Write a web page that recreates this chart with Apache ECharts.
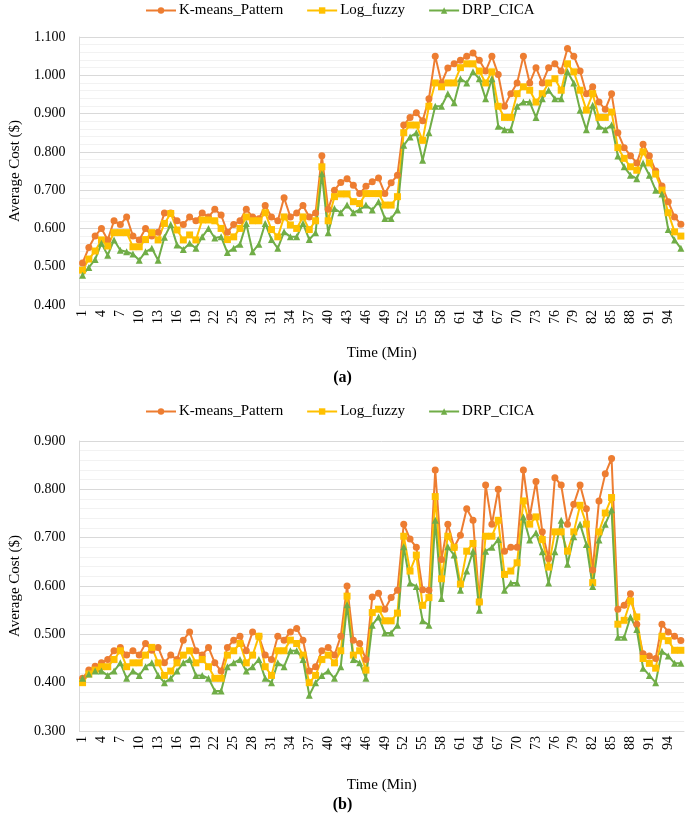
<!DOCTYPE html>
<html>
<head>
<meta charset="utf-8">
<script src="https://cdn.jsdelivr.net/npm/echarts@6/dist/echarts.min.js"></script>
<style>
html,body{margin:0;padding:0;background:#fff;}
#c{width:685px;height:814px;}
</style>
</head>
<body>
<div id="c"></div>
<script>
// ---- data ----
var categories = [];
for (var k = 1; k <= 96; k++) categories.push(String(k));

var seriesNames = ['K-means_Pattern', 'Log_fuzzy', 'DRP_CICA'];

var kmeansA = [0.51,0.55,0.58,0.60,0.57,0.62,0.61,0.63,0.58,0.57,
  0.60,0.58,0.59,0.64,0.64,0.62,0.61,0.63,0.62,0.64,
  0.63,0.65,0.635,0.59,0.61,0.62,0.65,0.63,0.625,0.66,
  0.63,0.62,0.68,0.63,0.64,0.66,0.63,0.64,0.79,0.65,
  0.70,0.72,0.73,0.713,0.691,0.71,0.722,0.732,0.691,0.719,
  0.739,0.87,0.89,0.902,0.881,0.939,1.05,0.98,1.019,1.03,
  1.039,1.05,1.058,1.039,1.011,1.05,1.002,0.919,0.952,0.98,
  1.05,0.98,1.02,0.98,1.02,1.03,1.011,1.07,1.05,1.011,
  0.952,0.97,0.93,0.911,0.952,0.85,0.811,0.79,0.771,0.82,
  0.79,0.75,0.711,0.67,0.63,0.611];

var logA = [0.491,0.52,0.541,0.57,0.554,0.589,0.589,0.589,0.552,0.552,
  0.571,0.589,0.57,0.613,0.639,0.596,0.57,0.583,0.57,0.622,
  0.622,0.62,0.60,0.571,0.578,0.60,0.63,0.62,0.62,0.641,
  0.597,0.578,0.63,0.609,0.60,0.63,0.597,0.62,0.761,0.62,
  0.683,0.69,0.69,0.67,0.665,0.691,0.691,0.691,0.661,0.661,
  0.683,0.85,0.87,0.87,0.83,0.919,0.98,0.97,0.98,0.98,
  1.02,1.03,1.03,1.011,0.98,1.009,0.919,0.89,0.89,0.952,
  0.97,0.961,0.93,0.952,0.98,0.991,0.961,1.03,1.009,0.961,
  0.909,0.952,0.89,0.89,0.904,0.811,0.783,0.761,0.752,0.80,
  0.771,0.742,0.70,0.641,0.591,0.58];

var drpA = [0.478,0.498,0.519,0.561,0.53,0.57,0.543,0.539,0.533,0.517,
  0.539,0.548,0.517,0.577,0.61,0.557,0.545,0.561,0.548,0.578,
  0.60,0.575,0.578,0.537,0.548,0.559,0.613,0.539,0.559,0.613,
  0.571,0.548,0.591,0.578,0.578,0.613,0.571,0.589,0.743,0.589,
  0.652,0.641,0.661,0.641,0.649,0.661,0.648,0.67,0.626,0.626,
  0.648,0.817,0.839,0.85,0.778,0.85,0.919,0.919,0.952,0.928,
  0.991,0.98,1.009,0.991,0.939,0.991,0.867,0.858,0.858,0.919,
  0.93,0.93,0.89,0.939,0.961,0.939,0.939,1.009,0.98,0.909,
  0.858,0.922,0.867,0.858,0.87,0.789,0.761,0.739,0.73,0.771,
  0.739,0.70,0.69,0.597,0.57,0.548];

var kmeansB = [0.409,0.426,0.434,0.441,0.448,0.466,0.473,0.457,0.466,0.457,
  0.481,0.467,0.473,0.441,0.457,0.448,0.488,0.505,0.466,0.457,
  0.473,0.441,0.424,0.473,0.488,0.496,0.466,0.505,0.496,0.457,
  0.448,0.496,0.488,0.505,0.512,0.488,0.424,0.433,0.466,0.473,
  0.457,0.496,0.60,0.488,0.481,0.448,0.577,0.585,0.552,0.576,
  0.591,0.728,0.697,0.68,0.592,0.591,0.84,0.655,0.728,0.68,
  0.705,0.76,0.736,0.567,0.809,0.728,0.80,0.672,0.68,0.68,
  0.84,0.743,0.816,0.712,0.657,0.824,0.809,0.728,0.769,0.809,
  0.76,0.633,0.776,0.832,0.864,0.552,0.56,0.584,0.521,0.46,
  0.455,0.45,0.521,0.505,0.496,0.487];

var logB = [0.40,0.418,0.426,0.433,0.433,0.448,0.466,0.433,0.441,0.441,
  0.457,0.473,0.441,0.415,0.424,0.441,0.457,0.466,0.441,0.448,
  0.433,0.409,0.409,0.457,0.466,0.481,0.441,0.457,0.496,0.433,
  0.415,0.466,0.466,0.488,0.481,0.457,0.40,0.415,0.448,0.457,
  0.441,0.466,0.579,0.457,0.466,0.426,0.545,0.552,0.528,0.528,
  0.544,0.703,0.631,0.664,0.56,0.576,0.785,0.615,0.703,0.68,
  0.604,0.672,0.688,0.567,0.703,0.703,0.736,0.624,0.631,0.648,
  0.776,0.728,0.743,0.696,0.639,0.712,0.712,0.672,0.712,0.767,
  0.728,0.607,0.712,0.751,0.783,0.521,0.529,0.569,0.536,0.45,
  0.44,0.43,0.496,0.487,0.467,0.467];

var drpB = [0.409,0.418,0.424,0.424,0.415,0.424,0.441,0.409,0.424,0.415,
  0.433,0.441,0.415,0.40,0.409,0.424,0.441,0.448,0.415,0.415,
  0.409,0.383,0.383,0.433,0.441,0.448,0.424,0.433,0.448,0.409,
  0.40,0.441,0.433,0.466,0.466,0.448,0.374,0.40,0.415,0.424,
  0.409,0.433,0.561,0.448,0.441,0.409,0.519,0.536,0.503,0.503,
  0.519,0.681,0.606,0.599,0.528,0.519,0.736,0.574,0.681,0.664,
  0.591,0.631,0.672,0.55,0.672,0.68,0.696,0.591,0.606,0.606,
  0.743,0.695,0.71,0.671,0.606,0.671,0.736,0.645,0.702,0.728,
  0.686,0.599,0.695,0.728,0.758,0.494,0.494,0.536,0.51,0.43,
  0.415,0.40,0.465,0.455,0.44,0.44];

var yTicksA = {min: 0.4, max: 1.1, interval: 0.1};
var yTicksB = {min: 0.3, max: 0.9, interval: 0.1};
var xAxisTitle = 'Time (Min)';
var yAxisTitle = 'Average Cost ($)';
var panelLabels = ['(a)', '(b)'];

// ---- styling ----
var FONT = '"Liberation Serif", "Times New Roman", serif';
var colors = ['#ED7D31', '#FFC000', '#70AD47'];
var symbols = ['circle', 'rect', 'triangle'];
var symbolSizes = [7, 7, 7];

function makeX(gi, nameGap) {
  return {
    type: 'category', gridIndex: gi, data: categories, boundaryGap: true,
    name: xAxisTitle, nameLocation: 'middle', nameGap: nameGap,
    nameTextStyle: {fontFamily: FONT, fontSize: 15, color: '#000'},
    axisLine: {show: true, lineStyle: {color: '#D9D9D9', width: 1}},
    axisTick: {show: false},
    axisLabel: {interval: 2, rotate: 90, margin: 5, fontFamily: FONT, fontSize: 14, color: '#000'}
  };
}
function makeY(gi, t) {
  return {
    type: 'value', gridIndex: gi, min: t.min, max: t.max, interval: t.interval,
    name: yAxisTitle, nameLocation: 'middle', nameGap: 49,
    nameTextStyle: {fontFamily: FONT, fontSize: 15, color: '#000'},
    axisLine: {show: true, lineStyle: {color: '#D9D9D9', width: 1}},
    axisTick: {show: false},
    axisLabel: {margin: 14, fontFamily: FONT, fontSize: 14, color: '#000',
      formatter: function (v) { return v.toFixed(3); }},
    splitLine: {show: true, lineStyle: {color: '#D9D9D9', width: 1}},
    minorTick: {show: false, splitNumber: 5},
    minorSplitLine: {show: true, lineStyle: {color: '#F2F2F2', width: 1}}
  };
}
function makeSeries(name, idx, data, gi) {
  return {
    name: name, type: 'line', xAxisIndex: gi, yAxisIndex: gi, data: data,
    symbol: symbols[idx], symbolSize: symbolSizes[idx],
    showSymbol: true, showAllSymbol: true,
    lineStyle: {color: colors[idx], width: 2},
    itemStyle: {color: colors[idx]},
    animation: false
  };
}
function makeLegend(top) {
  return {
    top: top, left: 145, padding: 0, itemGap: 23, itemWidth: 30, itemHeight: 8,
    data: seriesNames,
    textStyle: {fontFamily: FONT, fontSize: 15, color: '#000', padding: [0, 0, 0, -2]}
  };
}

var chart = echarts.init(document.getElementById('c'), null, {renderer: 'canvas'});
chart.setOption({
  backgroundColor: '#fff',
  animation: false,
  legend: [makeLegend(3), makeLegend(404)],
  grid: [
    {left: 68, right: 1, top: 37, height: 268},
    {left: 68, right: 1, top: 441, height: 290}
  ],
  xAxis: [makeX(0, 41), makeX(1, 47)],
  yAxis: [makeY(0, yTicksA), makeY(1, yTicksB)],
  title: [
    {text: panelLabels[0], left: 'center', top: 370, textStyle: {fontFamily: FONT, fontSize: 16, fontWeight: 'bold', color: '#000'}, padding: 0},
    {text: panelLabels[1], left: 'center', top: 797, textStyle: {fontFamily: FONT, fontSize: 16, fontWeight: 'bold', color: '#000'}, padding: 0}
  ],
  series: [
    makeSeries(seriesNames[0], 0, kmeansA, 0),
    makeSeries(seriesNames[1], 1, logA, 0),
    makeSeries(seriesNames[2], 2, drpA, 0),
    makeSeries(seriesNames[0], 0, kmeansB, 1),
    makeSeries(seriesNames[1], 1, logB, 1),
    makeSeries(seriesNames[2], 2, drpB, 1)
  ]
});
</script>
</body>
</html>
